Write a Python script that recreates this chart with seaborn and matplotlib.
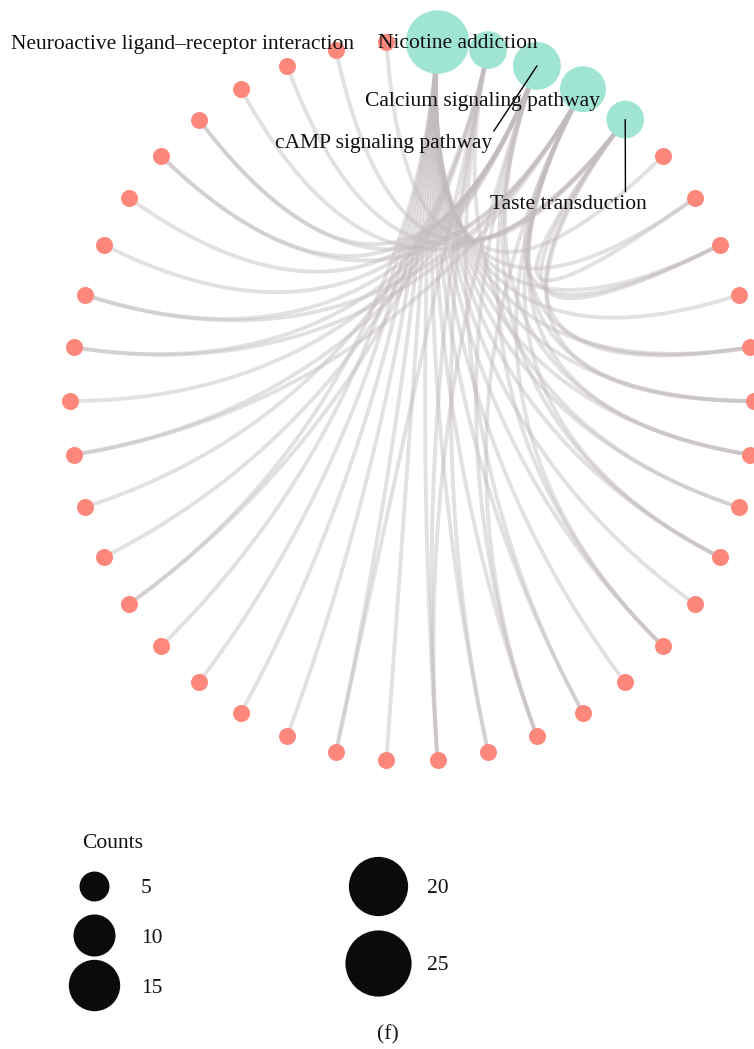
import numpy as np
import pandas as pd
import matplotlib
matplotlib.use("Agg")
import matplotlib.pyplot as plt
from matplotlib.lines import Line2D
import seaborn as sns

# ---- data -------------------------------------------------------------
pathways = [
    "Neuroactive ligand\u2013receptor interaction",
    "Nicotine addiction",
    "cAMP signaling pathway",
    "Calcium signaling pathway",
    "Taste transduction",
]
n_genes = 37
# member genes of each pathway (genes numbered by first appearance)
neuroactive_genes = list(range(1, 24))
nicotine_genes = [8, 13, 15, 16, 18, 23, 24, 25]
camp_genes = [7, 9, 11, 14, 16, 26, 27, 28, 29, 30, 31, 32, 33]
calcium_genes = [3, 5, 6, 7, 9, 11, 14, 26, 28, 29, 32, 33]
taste_genes = [2, 3, 5, 6, 34, 35, 36, 37]
members = [neuroactive_genes, nicotine_genes, camp_genes, calcium_genes, taste_genes]
counts = [len(m) for m in members]
legend_counts = [5, 10, 15, 20, 25]

# ---- style ------------------------------------------------------------
sns.set_theme(style="white")
plt.rcParams["font.family"] = ["Liberation Serif", "DejaVu Serif"]
GENE_COLOR = "#FC877A"
PATH_COLOR = "#A0E4D4"
EDGE_COLOR = "#C3BCBE"
TEXT_COLOR = "#111111"
FS = 15.5
SIZE_NORM = (5, 25)
SIZE_RANGE = (465.0, 2270.0)   # marker areas (pt^2) for SIZE_NORM ends
GENE_AREA = 150.0
ARC_STRENGTH = 0.65

# ---- circular layout --------------------------------------------------
n_nodes = len(pathways) + n_genes
theta = np.pi / 2 - 2 * np.pi * (np.arange(n_nodes) + 0.5) / n_nodes
node_x, node_y = np.cos(theta), np.sin(theta)
path_idx = np.arange(len(pathways))
gene_idx = len(pathways) + np.arange(n_genes)

# curved edges: cubic Bezier with control points pulled toward the centre
t = np.linspace(0, 1, 80)[:, None]
c = 1 - ARC_STRENGTH
rows = []
eid = 0
for p, genes in enumerate(members):
    for g in genes:
        j = len(pathways) + g - 1
        p0 = np.array([node_x[p], node_y[p]])
        p3 = np.array([node_x[j], node_y[j]])
        pts = ((1 - t) ** 3) * p0 + 3 * (1 - t) ** 2 * t * (c * p0) \
            + 3 * (1 - t) * t ** 2 * (c * p3) + (t ** 3) * p3
        for k in range(len(pts)):
            rows.append((eid, k, pts[k, 0], pts[k, 1]))
        eid += 1
edges = pd.DataFrame(rows, columns=["edge", "step", "x", "y"])

genes_df = pd.DataFrame({"x": node_x[gene_idx], "y": node_y[gene_idx]})
path_df = pd.DataFrame({"x": node_x[path_idx], "y": node_y[path_idx],
                        "count": counts, "name": pathways})

# ---- figure -----------------------------------------------------------
W, H = 754, 1049
fig = plt.figure(figsize=(W / 100, H / 100), dpi=100)
panel_h = 800
ax = fig.add_axes([0, (H - panel_h) / H, 1, panel_h / H])
cx, cy, rx, ry = 412, 401, 342, 360
ax.set_xlim(-cx / rx, (W - cx) / rx)
ax.set_ylim((cy - panel_h) / ry, cy / ry)
ax.axis("off")

sns.lineplot(data=edges, x="x", y="y", units="edge", estimator=None,
             sort=False, color=EDGE_COLOR, alpha=0.45, lw=2.8,
             legend=False, ax=ax, zorder=1)
sns.scatterplot(data=genes_df, x="x", y="y", color=GENE_COLOR, s=GENE_AREA,
                linewidth=0, legend=False, ax=ax, zorder=3)
sns.scatterplot(data=path_df, x="x", y="y", size="count", sizes=SIZE_RANGE,
                size_norm=SIZE_NORM, color=PATH_COLOR, linewidth=0,
                legend=False, ax=ax, zorder=4)

# pathway labels (offsets in pixels: dx right, dy up)
label_offsets = [(-255, -2), (-30, 7), (-153, -78), (-101, -12), (-57, -85)]
segment_anchor = [None, None, (0.99, 0.9), None, (0.865, 0.92)]
px2pt = 72 / 100
for i, name in enumerate(pathways):
    dx, dy = label_offsets[i]
    kw = {}
    if segment_anchor[i] is not None:
        kw["arrowprops"] = dict(arrowstyle="-", color="black", lw=1.0,
                                shrinkA=0, shrinkB=0, relpos=segment_anchor[i])
    ax.annotate(name, xy=(node_x[i], node_y[i]),
                xytext=(dx * px2pt, dy * px2pt), textcoords="offset points",
                ha="center", va="center", fontsize=FS, color=TEXT_COLOR,
                zorder=6, **kw)

# size legend
def area_of(v):
    lo, hi = SIZE_RANGE
    return lo + (v - SIZE_NORM[0]) / (SIZE_NORM[1] - SIZE_NORM[0]) * (hi - lo)

def handles_for(vals):
    return [Line2D([], [], marker="o", linestyle="", color="#0b0b0b",
                   markeredgewidth=0, markersize=np.sqrt(area_of(v))) for v in vals]

fig.text(82 / W, 1 - 844 / H, "Counts", ha="left", va="center",
         fontsize=FS, color=TEXT_COLOR)
left_vals, right_vals = legend_counts[:3], legend_counts[3:]
leg1 = fig.legend(handles_for(left_vals), [str(v) for v in left_vals],
                  loc="upper left", bbox_to_anchor=(72.5 / W, 1 - 878 / H),
                  frameon=False, fontsize=FS,
                  handlelength=2.0, labelspacing=1.38,
                  handletextpad=1.19, borderpad=0, borderaxespad=0)
leg2 = fig.legend(handles_for(right_vals), [str(v) for v in right_vals],
                  loc="upper left", bbox_to_anchor=(356.5 / W, 1 - 878 / H),
                  frameon=False, fontsize=FS,
                  handlelength=2.0, labelspacing=2.66,
                  handletextpad=1.28, borderpad=0, borderaxespad=0)
for leg in (leg1, leg2):
    for txt in leg.get_texts():
        txt.set_color(TEXT_COLOR)

fig.text(388 / W, 1 - 1035 / H, "(f)", ha="center", va="center",
         fontsize=FS, color=TEXT_COLOR)

fig.savefig("out.png", dpi=100)
